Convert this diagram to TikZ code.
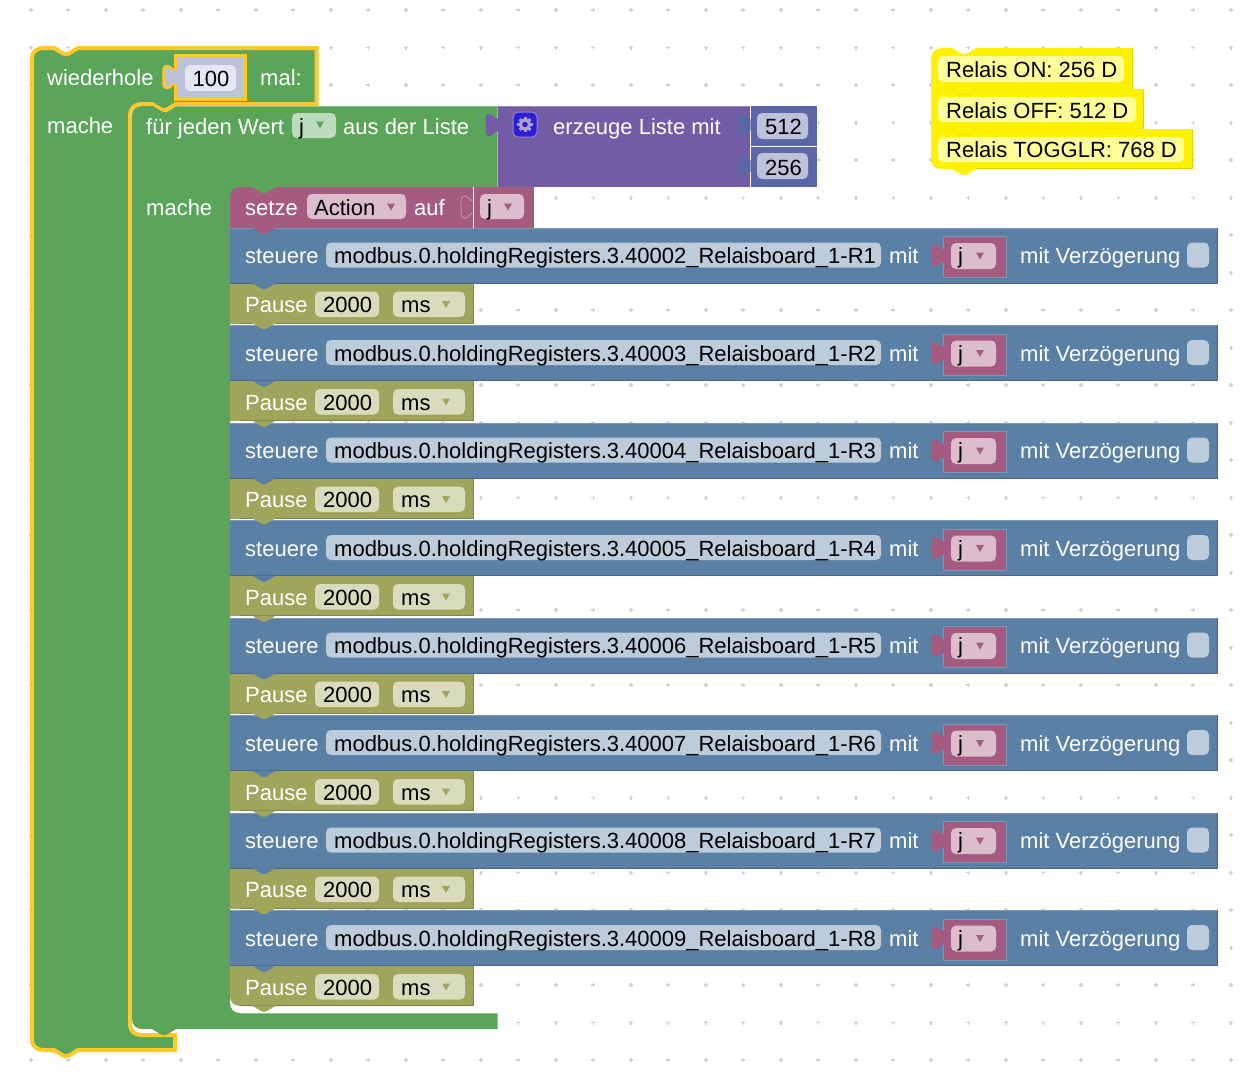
\documentclass[tikz,border=0pt]{standalone}
\usepackage{fontspec}
\setmainfont{Liberation Sans}
\definecolor{loopgreen}{HTML}{5BA55B}
\definecolor{lightgreen}{HTML}{8CC08C}
\definecolor{fieldgreen}{HTML}{BDDBBD}
\definecolor{hiyellow}{HTML}{FFC92B}
\definecolor{stblue}{HTML}{5B80A5}
\definecolor{lightblue}{HTML}{7C99B7}
\definecolor{darkblue}{HTML}{496684}
\definecolor{fieldblue}{HTML}{BDCCDB}
\definecolor{pauseolive}{HTML}{9FA55B}
\definecolor{darkolive}{HTML}{7F8449}
\definecolor{fieldolive}{HTML}{D9DBBD}
\definecolor{varpink}{HTML}{A55B80}
\definecolor{darkpink}{HTML}{844966}
\definecolor{fieldpink}{HTML}{DBBDCC}
\definecolor{listpurple}{HTML}{745BA5}
\definecolor{lightpurple}{HTML}{9A88BE}
\definecolor{mathblue}{HTML}{5B67A5}
\definecolor{fieldmath}{HTML}{BDC2DB}
\definecolor{notefield}{HTML}{FFFF99}
\definecolor{notedark}{HTML}{D6D600}
\definecolor{griddot}{HTML}{D2D2D2}
\definecolor{gearblue}{HTML}{2B1DDB}
\tikzset{
	lbl/.style={anchor=base west,inner sep=0pt,white,font=\fontsize{22}{26}\selectfont},
	val/.style={anchor=base west,inner sep=0pt,black,font=\fontsize{22}{26}\selectfont},
	valmid/.style={anchor=base,inner sep=0pt,black,font=\fontsize{22}{26}\selectfont}
}
% input tab on the left of a value block
\newcommand{\tabshape}{(0.5,-6) .. controls (-4,-6) and (-5,-11) .. (-9,-11) .. controls (-12,-11) and (-12.5,-8) .. (-12.5,-4) -- (-12.5,4) .. controls (-12.5,8) and (-12,11) .. (-9,11) .. controls (-5,11) and (-4,6) .. (0.5,6) -- cycle}
\newcommand{\puzzletab}[3]{
	\fill[#3,shift={(#1,#2)}] \tabshape;
}
% tab under a statement block
\newcommand{\downtab}[3]{
	\fill[#3,shift={(#1,#2)}] (-12,-0.5) -- (-3,5) .. controls (-1,6.3) and (1,6.3) .. (3,5) -- (12,-0.5) -- cycle;
}
\newcommand{\field}[5]{
	\fill[#5,rounded corners=5] (#1,#2) rectangle (#3,#4);
}
\newcommand{\droptri}[3]{
	\fill[#3,shift={(#1,#2)}] (-4,-3.5) -- (4,-3.5) -- (0,3.5) -- cycle;
}
\begin{document}
\begin{tikzpicture}[x=1pt,y=-1pt]
	\useasboundingbox (0,0) rectangle (1254,1076);
	\fill[white] (0,0) rectangle (1254,1076);

	% grid
	\foreach \i in {0,...,32}
		\foreach \k in {0,...,28}
			\draw[griddot,line width=1.6] ({30.8+37.5*\i-2},{10+37.5*\k}) -- ++(4,0) ({30.8+37.5*\i},{10+37.5*\k-2}) -- ++(0,4);

	% outer loop
	\filldraw[fill=loopgreen,draw=hiyellow,line width=4] (32,58) .. controls (32,52) and (37,48) .. (43,48) -- (54,48) -- (63,53.5) .. controls (65,54.5) and (67,54.5) .. (69,53.5) -- (78,48) -- (316.5,48) -- (316.5,104) -- (176,104) -- (167,109.5) .. controls (165,110.5) and (163,110.5) .. (161,109.5) -- (152,104) -- (141,104) .. controls (135,104) and (130,109) .. (130,115) -- (130,1025) .. controls (130,1031) and (135,1035) .. (141,1035) -- (175,1035) -- (175,1050) -- (78,1050) -- (69,1055.5) .. controls (67,1056.5) and (65,1056.5) .. (63,1055.5) -- (54,1050) -- (43,1050) .. controls (37,1050) and (32,1046) .. (32,1040) -- cycle;
	\node[lbl] (wiederhole) at (47,85) {wiederhole};
	\node[lbl] (mal) at (260,85) {mal:};
	\node[lbl] (mache1) at (47,133) {mache};
	\filldraw[fill=fieldmath,draw=hiyellow,line width=2.5,shift={(176,77)}] \tabshape;
	\filldraw[fill=fieldmath,draw=hiyellow,line width=3] (175.5,55.5) rectangle (245.5,99);
	\fill[fieldmath] (172,70) rectangle (178,84);
	\field{185}{65}{236}{91}{fieldmath!40!white}
	\node[valmid] (count) at (211,86) {100};

	% inner loop
	\fill[loopgreen] (132,116) .. controls (132,110) and (136,106) .. (142,106) -- (153,106) -- (162,111.5) .. controls (164,112.5) and (166,112.5) .. (168,111.5) -- (177,106) -- (497.5,106) -- (497.5,187) -- (285,187) -- (285,197) -- (230,197) -- (230,1003) .. controls (230,1009) and (234,1013) .. (240,1013) -- (497.5,1013) -- (497.5,1029) -- (176,1029) -- (167,1034.5) .. controls (165,1035.5) and (163,1035.5) .. (161,1034.5) -- (152,1029) -- (142,1029) .. controls (136,1029) and (132,1025) .. (132,1019) -- cycle;
	\draw[lightgreen,line width=1] (177,106.5) -- (497,106.5);
	\draw[lightgreen,line width=1] (240,1013.5) -- (497,1013.5);
	\node[lbl] (fuer) at (146,134) {für jeden Wert};
	\field{292}{113}{336}{138}{fieldgreen}
	\node[val] (itemvar) at (299,134) {j};
	\droptri{320}{125}{loopgreen}
	\node[lbl] (ausliste) at (343,134) {aus der Liste};
	\node[lbl] (mache2) at (146,215) {mache};

	% list block
	\puzzletab{498}{125}{listpurple}
	\fill[listpurple] (498,106) rectangle (749.5,186.5);
	\draw[lightpurple,line width=1] (498,106.5) -- (749,106.5);
	\filldraw[fill=gearblue,draw=lightpurple,line width=1,rounded corners=5] (513,112) rectangle (537,137);
	\draw[lightpurple!80!white,line width=3.2] (525,124.5) circle (4.6);
	\foreach \a in {0,45,...,315}
		\draw[lightpurple!80!white,line width=3] (525,124.5) ++(\a:5) -- ++(\a:2.6);
	\node[lbl] (erzeuge) at (553,134) {erzeuge Liste mit};
	\fill[mathblue] (750.5,106) rectangle (817,146);
	\fill[mathblue] (750.5,147) rectangle (817,186.5);
	\puzzletab{750}{125}{mathblue}
	\puzzletab{750}{166}{mathblue}
	\field{757}{113}{808}{139}{fieldmath}
	\field{757}{153}{808}{179}{fieldmath}
	\node[valmid] (num512) at (783.5,134) {512};
	\node[valmid] (num256) at (783.5,175) {256};

	% set variable block
	\fill[varpink] (230,197) .. controls (230,191) and (234,187) .. (240,187) -- (252,187) -- (261,192.5) .. controls (263,193.5) and (265,193.5) .. (267,192.5) -- (276,187) -- (473,187) -- (473,228) -- (230,228) -- cycle;
	\node[lbl] (setze) at (245,215) {setze};
	\field{307}{194}{406}{219}{fieldpink}
	\node[val] (action) at (314,215) {Action};
	\droptri{391}{207}{varpink}
	\node[lbl] (auf) at (414,215) {auf};
	\filldraw[fill=varpink,draw=fieldpink!50!varpink,line width=1,shift={(473.5,207)}] \tabshape;
	\fill[varpink] (474,187) rectangle (533.5,228);
	\draw[white,line width=0.6] (473.7,187) -- (473.7,228);
	\field{480}{194}{524}{219}{fieldpink}
	\node[val] (setval) at (487,215) {j};
	\droptri{508}{207}{varpink}

	% control and pause rows
	\foreach \i in {1,...,8}{
		\pgfmathtruncatemacro{\reg}{\i+1}
		\pgfmathsetmacro{\rowy}{227.5+97.5*(\i-1)}
		\begin{scope}[shift={(0,\rowy)}]
			\fill[stblue] (230,0) rectangle (1218,56);
			\draw[lightblue,line width=1] (230,0.5) -- (1218,0.5);
			\draw[darkblue,line width=1] (230,55.5) -- (1217.5,55.5) -- (1217.5,0);
			\node[lbl] (steuere\i) at (245,36) {steuere};
			\field{326}{15}{881}{40}{fieldblue}
			\node[val] (reg\i) at (334,36) {modbus.0.holdingRegisters.3.4000\reg\_Relaisboard\_1-R\i};
			\node[lbl] (mit\i) at (889,36) {mit};
			\puzzletab{944}{28}{varpink}
			\filldraw[fill=varpink,draw=lightblue,line width=1] (943.5,9) rectangle (1006,50);
			\fill[varpink] (942,21) rectangle (945,35);
			\field{951}{15.5}{996}{41.5}{fieldpink}
			\node[val] (ctrlval\i) at (958,36) {j};
			\droptri{980}{28.5}{varpink}
			\node[lbl] (delay\i) at (1020,36) {mit Verzögerung};
			\field{1187}{15}{1209}{40}{fieldblue}

			% pause
			\ifnum\i=8
				\fill[pauseolive] (230,56) -- (473.5,56) -- (473.5,96) -- (240,96) .. controls (234,96) and (230,92) .. (230,86) -- cycle;
			\else
				\fill[pauseolive] (230,56) rectangle (473.5,96);
			\fi
			\draw[darkolive,line width=1] (240,95.5) -- (473,95.5) -- (473,56);
			\downtab{264}{56}{stblue}
			\node[lbl] (pause\i) at (245,85) {Pause};
			\field{315}{64}{379}{89.5}{fieldolive}
			\node[val] (ptime\i) at (323,85) {2000};
			\field{393}{64}{465}{89.5}{fieldolive}
			\node[val] (pms\i) at (401,85) {ms};
			\droptri{446}{77}{pauseolive}
		\end{scope}
	}
	\downtab{264}{228}{varpink}
	% pause tabs lie on the next row
	\foreach \i in {1,...,8}{
		\downtab{264}{{323.5+97.5*(\i-1)}}{pauseolive}
	}

	% notes
	\fill[yellow] (931,58) .. controls (931,52) and (936,48) .. (942,48) -- (952,48) -- (961,53.5) .. controls (963,54.5) and (965,54.5) .. (967,53.5) -- (976,48) -- (1133,48) -- (1133,89) -- (1144,89) -- (1144,129) -- (1193,129) -- (1193,169) -- (976,169) -- (967,174.5) .. controls (965,175.5) and (963,175.5) .. (961,174.5) -- (952,169) -- (941,169) .. controls (935,169) and (931,165) .. (931,159) -- cycle;
	\draw[notedark,line width=1] (976,168.7) -- (1192.6,168.7) -- (1192.6,129.5);
	\draw[notedark,line width=1] (1143.6,128.6) -- (1143.6,89.5);
	\draw[notedark,line width=1] (1132.6,88.6) -- (1132.6,48.5);
	\draw[notedark!50!yellow,line width=0.8] (931,89) -- (952,89) -- (961,94.5) -- (967,94.5) -- (976,89) -- (1132,89);
	\draw[notedark!50!yellow,line width=0.8] (931,129) -- (952,129) -- (961,134.5) -- (967,134.5) -- (976,129) -- (1143,129);
	\field{938}{56}{1124}{82}{notefield}
	\field{938}{97}{1136}{122}{notefield}
	\field{938}{137}{1184}{162}{notefield}
	\node[val] (noteon) at (946,77) {Relais ON: 256 D};
	\node[val] (noteoff) at (946,118) {Relais OFF: 512 D};
	\node[val] (notetoggle) at (946,157.5) {Relais TOGGLR: 768 D};
\end{tikzpicture}
\end{document}
